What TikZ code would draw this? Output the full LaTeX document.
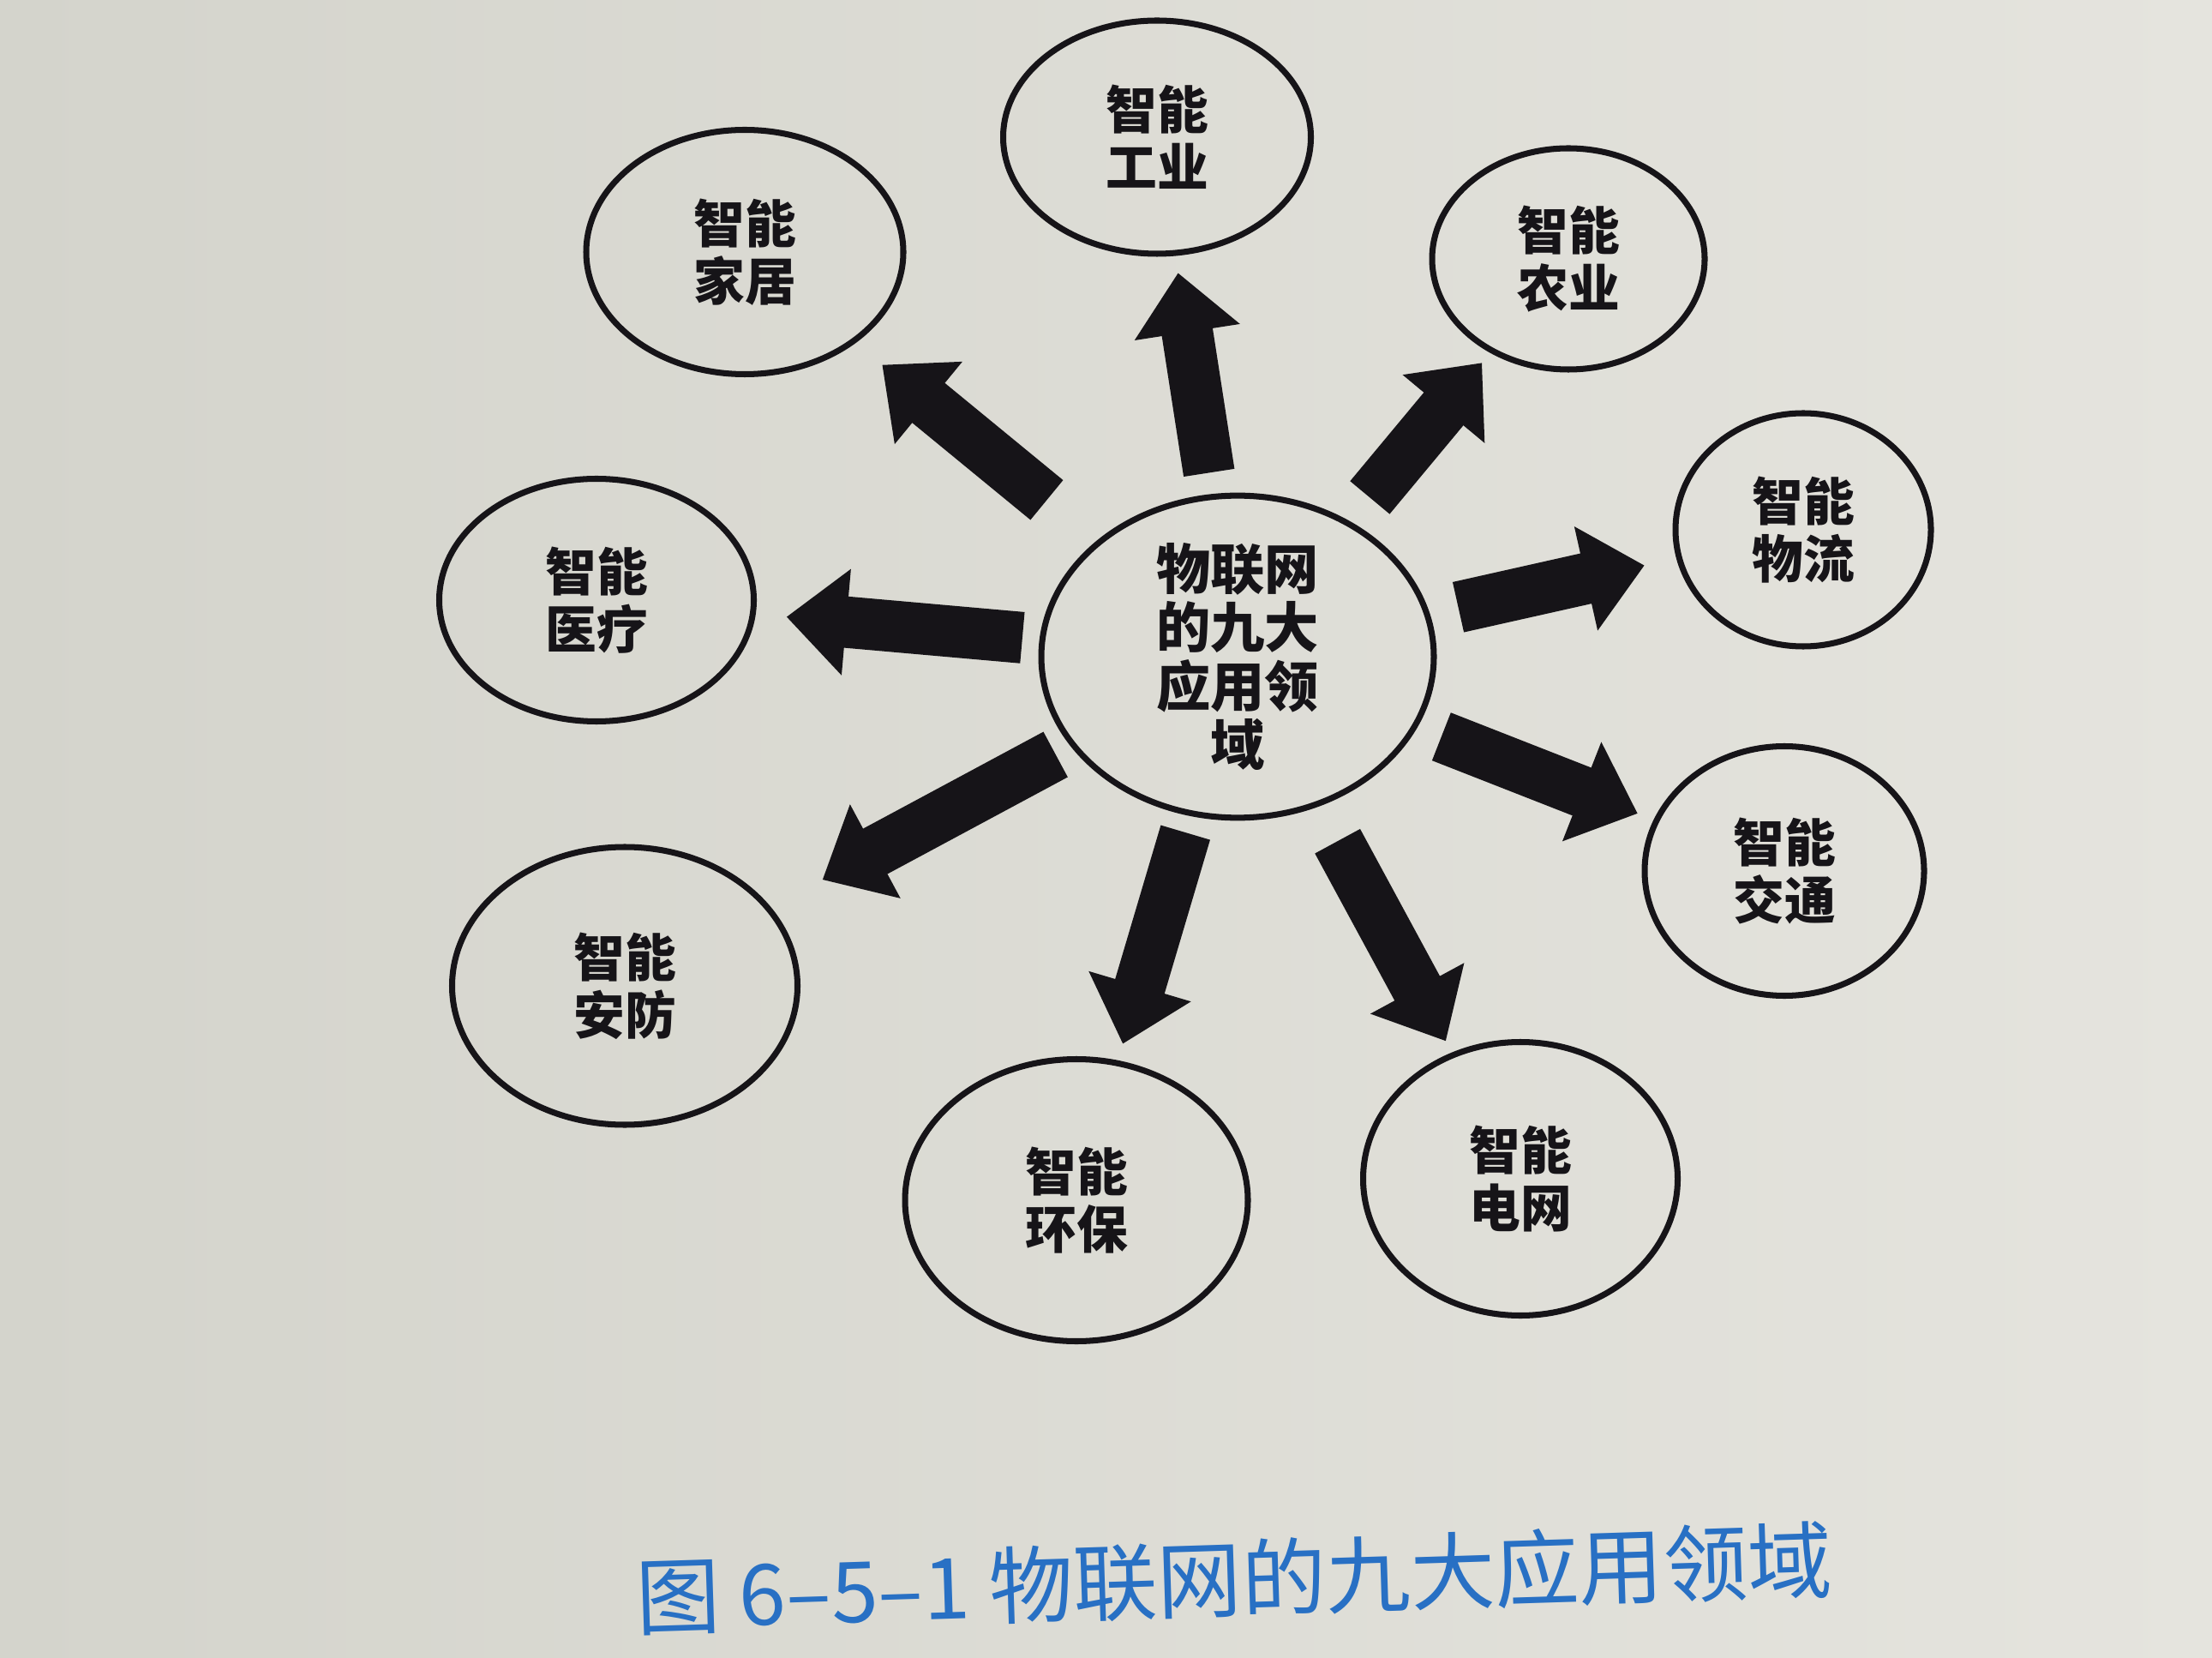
\documentclass[tikz,border=0pt]{standalone}
\usepackage{fontspec}
\setmainfont{Noto Sans CJK SC}
\usetikzlibrary{arrows.meta,shapes.geometric}
\definecolor{paper}{RGB}{229,228,222}
\definecolor{paperdark}{RGB}{212,212,204}
\definecolor{ink}{RGB}{22,20,24}
\definecolor{capblue}{RGB}{40,112,196}

\begin{document}
\begin{tikzpicture}[
  area/.style={draw=ink, ellipse, line width=2pt, inner sep=0pt, align=center, text=ink, font=\fontsize{17}{19}\selectfont\bfseries},
  hub/.style={area, font=\fontsize{18}{19.5}\selectfont\bfseries},
  spoke/.style={draw=ink, -{Triangle[length=7mm, width=12mm]}, line width=6mm}
]
% paper background
\shade[left color=paperdark, right color=paper] (0,0) rectangle (25.81,19.33);
\useasboundingbox (0,0) rectangle (25.81,19.33);

\node[hub, minimum width=4.58cm, minimum height=3.29cm] (iot) at (14.44,11.67) {物联网\\的九大\\应用领\\域};
\node[area, minimum width=3.59cm, minimum height=2.72cm] (industry) at (13.50,17.73) {智能\\工业};
\node[area, minimum width=3.70cm, minimum height=2.85cm] (home) at (8.69,16.39) {智能\\家居};
\node[area, minimum width=3.18cm, minimum height=2.58cm] (farm) at (18.30,16.31) {智能\\农业};
\node[area, minimum width=2.98cm, minimum height=2.72cm] (logistics) at (21.04,13.15) {智能\\物流};
\node[area, minimum width=3.67cm, minimum height=2.83cm] (medical) at (6.96,12.33) {智能\\医疗};
\node[area, minimum width=3.26cm, minimum height=2.91cm] (traffic) at (20.82,9.17) {智能\\交通};
\node[area, minimum width=4.03cm, minimum height=3.24cm] (security) at (7.29,7.83) {智能\\安防};
\node[area, minimum width=4.00cm, minimum height=3.29cm] (ecology) at (12.56,5.33) {智能\\环保};
\node[area, minimum width=3.67cm, minimum height=3.19cm] (grid) at (17.74,5.58) {智能\\电网};

\node[text=capblue, rotate=1.8, font=\fontsize{28}{28}\selectfont] (caption) at (14.40,0.92) {图 6–5–1 物联网的九大应用领域};

\draw[spoke, shorten <=0.25cm, shorten >=0.2cm] (iot) -- (industry);
\draw[spoke, shorten <=0.75cm, shorten >=0.4cm] (iot) -- (home);
\draw[spoke, shorten <=0.36cm, shorten >=0.15cm] (iot) -- (farm);
\draw[spoke, shorten <=0.34cm, shorten >=0.38cm] (iot) -- (logistics);
\draw[spoke, shorten <=0.2cm, shorten >=0.36cm] (iot) -- (medical);
\draw[spoke, shorten <=0.3cm, shorten >=0.2cm] (iot) -- (traffic);
\draw[spoke, shorten <=0.2cm, shorten >=0.68cm] (iot) -- (security);
\draw[spoke, shorten <=0.2cm, shorten >=0.2cm] (iot) -- (ecology);
\draw[spoke, shorten <=0.46cm, shorten >=0.15cm] (iot) -- (grid);
\end{tikzpicture}
\end{document}
